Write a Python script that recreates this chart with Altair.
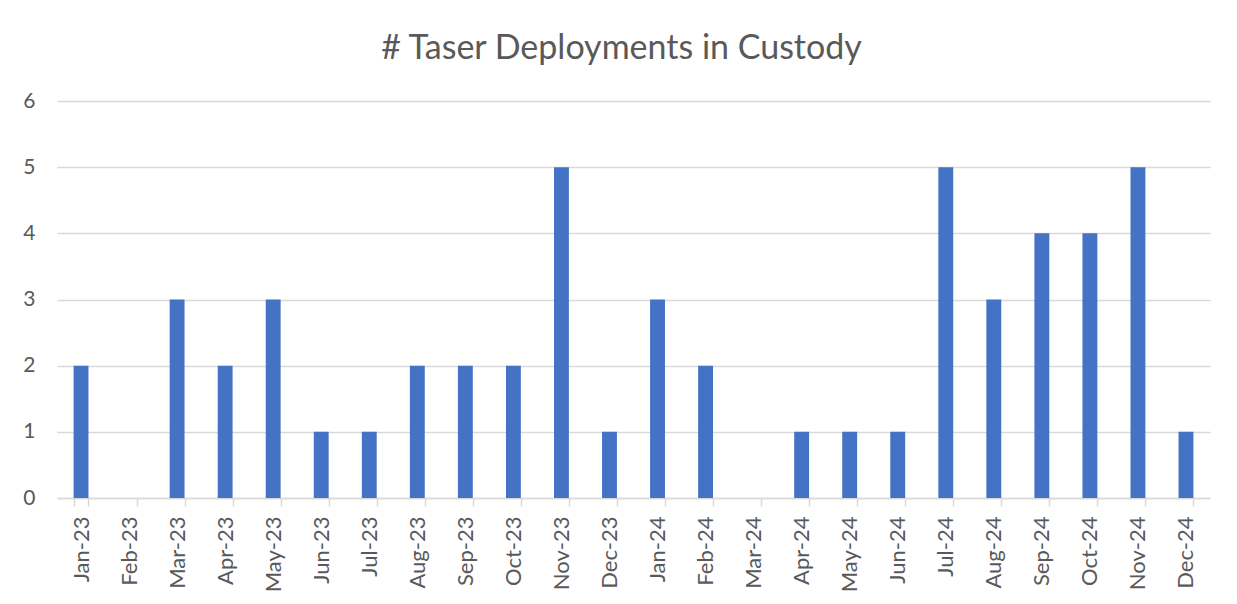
import altair as alt
import pandas as pd

months = ["Jan-23", "Feb-23", "Mar-23", "Apr-23", "May-23", "Jun-23", "Jul-23", "Aug-23",
          "Sep-23", "Oct-23", "Nov-23", "Dec-23", "Jan-24", "Feb-24", "Mar-24", "Apr-24",
          "May-24", "Jun-24", "Jul-24", "Aug-24", "Sep-24", "Oct-24", "Nov-24", "Dec-24"]
counts = [2, 0, 3, 2, 3, 1, 1, 2, 2, 2, 5, 1, 3, 2, 0, 1, 1, 1, 5, 3, 4, 4, 5, 1]
y_ticks = [0, 1, 2, 3, 4, 5, 6]

df = pd.DataFrame({"month": months, "count": counts})

FONT = "Lato"
GREY = "#595959"

chart = alt.Chart(df).mark_bar(color="#4472C4").encode(
    x=alt.X("month:N", sort=months, title=None,
            scale=alt.Scale(paddingInner=0.69, paddingOuter=0.345),
            axis=alt.Axis(labelAngle=-90, labelFontSize=22, labelColor=GREY, labelFont=FONT,
                          domainColor="#d9d9d9", domainWidth=1.5, tickColor="#d9d9d9",
                          tickSize=8, tickWidth=1.5, tickBand="extent", labelPadding=10,
                          grid=False)),
    y=alt.Y("count:Q", title=None,
            scale=alt.Scale(domain=[0, 6], nice=False),
            axis=alt.Axis(values=y_ticks, labelFontSize=21, labelColor=GREY, labelFont=FONT,
                          domain=False, ticks=False, labelPadding=22,
                          gridColor="#d9d9d9", gridWidth=1.5)),
).properties(
    width=1153, height=397,
    title=alt.TitleParams("# Taser Deployments in Custody", fontSize=34, font=FONT,
                          color=GREY, fontWeight="normal", offset=24, dx=-12),
    padding={"left": 14, "top": 24, "right": 10, "bottom": 5},
).configure_view(stroke=None)

chart.save("out.html", embed_options={"renderer": "svg", "actions": False})
